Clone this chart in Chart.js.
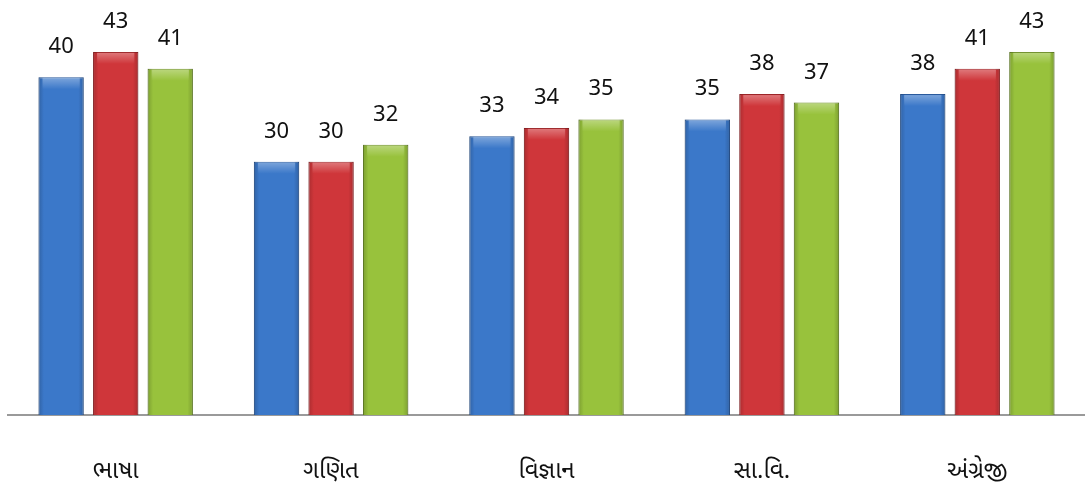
<!DOCTYPE html>
<html>
<head>
<meta charset="utf-8">
<script src="https://cdn.jsdelivr.net/npm/chart.js@4"></script>
<style>
  html, body { margin: 0; padding: 0; background: #fff; }
  #wrap { width: 1085px; height: 486px; position: relative; }
</style>
</head>
<body>
<div id="wrap"><canvas id="subjectChart"></canvas></div>
<script>
// Categories and series values
const subjects = ["ભાષા", "ગણિત", "વિજ્ઞાન", "સા.વિ.", "અંગ્રેજી"];
const seriesBlue = [40, 30, 33, 35, 38];
const seriesRed = [43, 30, 34, 38, 41];
const seriesGreen = [41, 32, 35, 37, 43];

// Soft bevel look on each bar (shaded edges, light top cap)
const barBevel = {
  id: "barBevel",
  afterDatasetsDraw(chart) {
    const ctx = chart.ctx;
    ctx.save();
    chart.data.datasets.forEach((ds, i) => {
      chart.getDatasetMeta(i).data.forEach((bar) => {
        const left = bar.x - bar.width / 2;
        const top = bar.y;
        const h = bar.base - bar.y;
        const g = ctx.createLinearGradient(left, 0, left + bar.width, 0);
        g.addColorStop(0, "rgba(0,0,0,0.18)");
        g.addColorStop(0.12, "rgba(0,0,0,0)");
        g.addColorStop(0.88, "rgba(0,0,0,0)");
        g.addColorStop(1, "rgba(0,0,0,0.18)");
        ctx.fillStyle = g;
        ctx.fillRect(left, top, bar.width, h);
        const cap = ctx.createLinearGradient(0, top, 0, top + 12);
        cap.addColorStop(0, "rgba(255,255,255,0.35)");
        cap.addColorStop(1, "rgba(255,255,255,0)");
        ctx.fillStyle = cap;
        ctx.fillRect(left + 4, top + 1, bar.width - 8, 12);
      });
    });
    ctx.restore();
  },
};

// Draws the value above each bar
const valueLabels = {
  id: "valueLabels",
  afterDatasetsDraw(chart) {
    const ctx = chart.ctx;
    ctx.save();
    ctx.font = "22px 'Noto Sans', 'Open Sans', sans-serif";
    ctx.fillStyle = "#111";
    ctx.textAlign = "center";
    ctx.textBaseline = "alphabetic";
    chart.data.datasets.forEach((ds, i) => {
      const meta = chart.getDatasetMeta(i);
      meta.data.forEach((bar, j) => {
        ctx.fillText(ds.data[j], bar.x, bar.y - 24);
      });
    });
    ctx.restore();
  },
};

const ctx = document.getElementById("subjectChart").getContext("2d");

new Chart(ctx, {
  type: "bar",
  data: {
    labels: subjects,
    datasets: [
      {
        label: "A",
        data: seriesBlue,
        backgroundColor: "#3b78c9",
        borderColor: "#2a5a9c",
        borderWidth: 1,
      },
      {
        label: "B",
        data: seriesRed,
        backgroundColor: "#cf363a",
        borderColor: "#9c2528",
        borderWidth: 1,
      },
      {
        label: "C",
        data: seriesGreen,
        backgroundColor: "#98c23c",
        borderColor: "#6f8f2a",
        borderWidth: 1,
      },
    ],
  },
  options: {
    responsive: true,
    maintainAspectRatio: false,
    animation: false,
    categoryPercentage: 0.76,
    barPercentage: 0.83,
    layout: {
      padding: { top: 35, left: 8, right: 0, bottom: 0 },
    },
    scales: {
      x: {
        grid: { display: false, drawTicks: false },
        border: { display: true, color: "#9a9a9a", width: 2 },
        ticks: {
          padding: 42,
          color: "#111",
          font: { size: 24, family: "'Noto Sans', 'Noto Sans Gujarati', sans-serif" },
        },
        afterFit(scale) {
          scale.height = 71; // keep the axis line where the picture has it
        },
      },
      y: {
        display: false,
        min: 0,
        max: 45,
      },
    },
    plugins: {
      legend: { display: false },
      tooltip: { enabled: false },
    },
  },
  plugins: [barBevel, valueLabels],
});
</script>
</body>
</html>
